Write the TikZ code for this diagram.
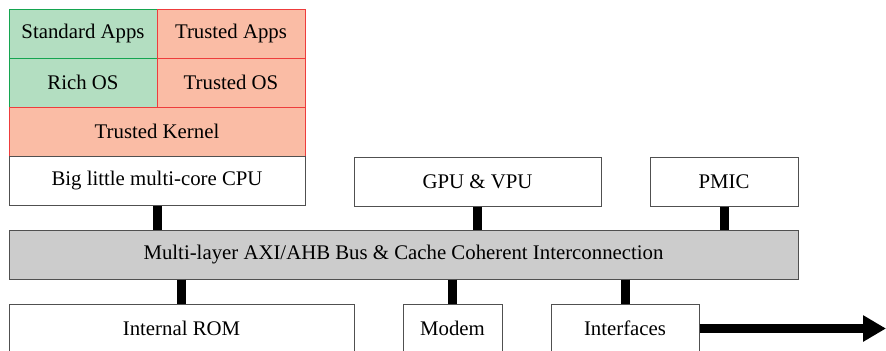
\documentclass[tikz,border=0pt]{standalone}
\usepackage{fontspec}
\setmainfont{Liberation Serif}
\usetikzlibrary{arrows.meta}
\definecolor{normalfill}{RGB}{179,222,193}
\definecolor{normalline}{RGB}{20,165,80}
\definecolor{securefill}{RGB}{250,188,165}
\definecolor{secureline}{RGB}{238,60,60}
\definecolor{busfill}{RGB}{204,204,204}
\definecolor{boxline}{RGB}{80,80,80}
\tikzset{
  hwbox/.style={draw=boxline, line width=0.5pt, fill=white, inner sep=0pt, minimum height=24.5pt},
  normalbox/.style={hwbox, draw=normalline, fill=normalfill},
  securebox/.style={hwbox, draw=secureline, fill=securefill},
  busbox/.style={hwbox, fill=busfill},
  buslink/.style={line width=4.5pt, black},
}
\begin{document}
\begin{tikzpicture}[x=0.5pt, y=-0.5pt]
                    \clip (0,0) rectangle (886,350);
                    {\fontsize{10.4}{12}\selectfont

                    % Drawing the software stack
                    \node [normalbox, minimum width=74pt] (sapps) at (83,33.5) {Standard Apps};
                    \node [securebox, minimum width=74pt] (tapps) at (231,33.5) {Trusted Apps};
                    \node [normalbox, minimum width=74pt] (richos) at (83,82.5) {Rich OS};
                    \node [securebox, minimum width=74pt] (tos) at (231,82.5) {Trusted OS};
                    \node [securebox, minimum width=148pt] (kernel) at (157,131.5) {Trusted Kernel};

                    % Drawing the upper hardware blocks
                    \node [hwbox, minimum width=148pt] (cpu) at (157,181) {Big little multi-core CPU};
                    \node [hwbox, minimum width=123.5pt] (gpu) at (477.5,181.5) {GPU \& VPU};
                    \node [hwbox, minimum width=74pt] (pmic) at (724,181.5) {PMIC};

                    % Drawing the bus
                    \node [busbox, minimum width=394.5pt] (bus) at (403.5,254.5) {Multi-layer AXI/AHB Bus \& Cache Coherent Interconnection};

                    % Drawing the lower hardware blocks
                    \node [hwbox, minimum width=172.5pt] (rom) at (181.5,328.5) {Internal ROM};
                    \node [hwbox, minimum width=49.5pt] (modem) at (452.5,328.5) {Modem};
                    \node [hwbox, minimum width=74pt] (ifaces) at (625,328.5) {Interfaces};
                    \coordinate (out) at (886,328.5);

                    % Drawing links to the bus
                    \draw [buslink] (cpu.south) -- (cpu.south |- bus.north);
                    \draw [buslink] (gpu.south) -- (gpu.south |- bus.north);
                    \draw [buslink] (pmic.south) -- (pmic.south |- bus.north);
                    \draw [buslink] (rom.north |- bus.south) -- (rom.north);
                    \draw [buslink] (modem.north |- bus.south) -- (modem.north);
                    \draw [buslink] (ifaces.north |- bus.south) -- (ifaces.north);

                    % Drawing the outgoing arrow
                    \draw [buslink, -{Triangle[length=11.5pt, width=12.5pt]}] (ifaces.east) -- (out);
                    }
\end{tikzpicture}
\end{document}
